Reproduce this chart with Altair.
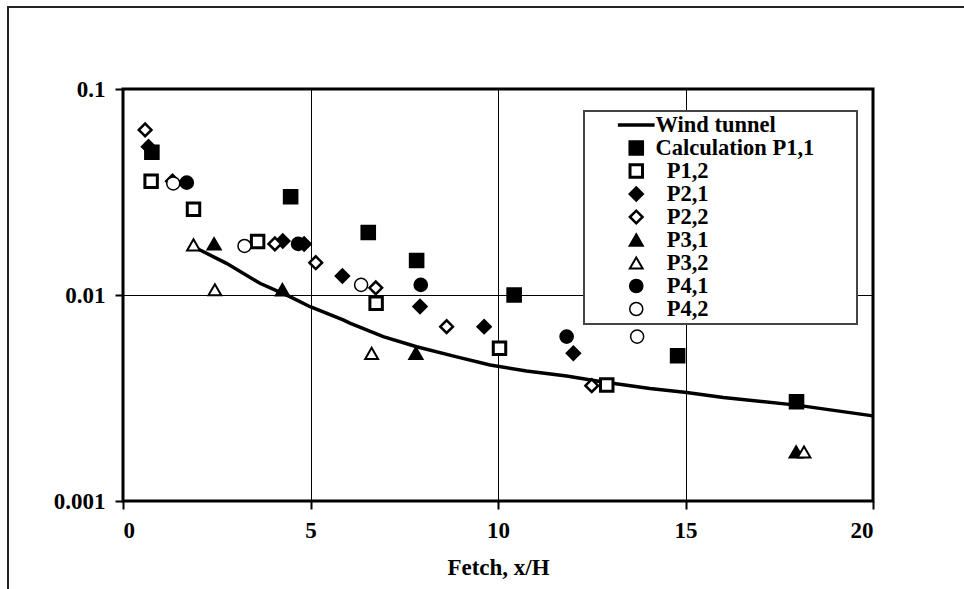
import altair as alt
import pandas as pd

# Wind tunnel reference curve
wind_x = [1.96, 2.76, 3.65, 4.45, 4.99, 5.87, 6.05, 6.94, 7.83, 8.90, 9.79,
          10.76, 11.83, 12.72, 14.05, 15.03, 16.01, 17.96, 20.0]
wind_y = [0.01687, 0.01425, 0.0114, 0.00982, 0.00877, 0.00757, 0.0073, 0.00628,
          0.00561, 0.00501, 0.00457, 0.00428, 0.00404, 0.0038, 0.00352, 0.00336,
          0.00318, 0.00292, 0.00259]

# Calculated concentrations per measuring point
calc_x = [0.77, 4.47, 6.54, 7.83, 10.43, 14.79, 17.96]
calc_y = [0.0493, 0.0300, 0.0201, 0.0147, 0.0100, 0.00507, 0.00303]
p12_x = [0.75, 1.88, 3.59, 6.75, 10.04, 12.90]
p12_y = [0.0357, 0.0261, 0.0182, 0.00912, 0.00551, 0.00366]
p21_x = [0.68, 4.26, 4.83, 5.85, 7.92, 9.63, 12.01]
p21_y = [0.0525, 0.0183, 0.0177, 0.01236, 0.0088, 0.00702, 0.00521]
p22_x = [0.59, 1.32, 4.05, 5.14, 6.74, 8.63, 12.50]
p22_y = [0.0633, 0.0357, 0.0177, 0.01435, 0.01083, 0.00702, 0.00363]
p31_x = [2.43, 4.25, 7.81, 17.95]
p31_y = [0.0177, 0.0106, 0.00521, 0.00173]
p32_x = [1.88, 2.45, 6.63, 18.16]
p32_y = [0.0175, 0.0106, 0.00521, 0.00173]
p41_x = [1.70, 4.67, 7.94, 11.83]
p41_y = [0.0351, 0.0177, 0.0112, 0.00628]
p42_x = [1.34, 3.24, 6.35, 13.71]
p42_y = [0.0348, 0.0173, 0.0112, 0.00628]

# Legend names; the zero-width space keeps the padding spaces from being trimmed
NB = "\u00a0"
ZW = "\u200b"
series_names = ["Wind tunnel", "Calculation P1,1" + NB * 7 + ZW,
                ZW + NB * 2 + "P1,2", ZW + NB * 2 + "P2,1", ZW + NB * 2 + "P2,2",
                ZW + NB * 2 + "P3,1", ZW + NB * 2 + "P3,2", ZW + NB * 2 + "P4,1",
                ZW + NB * 2 + "P4,2"]
series_shapes = ["M-3,0H3", "square", "square", "diamond", "diamond",
                 "triangle-up", "triangle-up", "circle", "circle"]
series_fills = ["black", "black", "white", "black", "white",
                "black", "white", "black", "white"]
series_sizes = [150, 170, 170, 230, 230, 190, 190, 160, 160]
series_widths = [3.5, 1.5, 1.5, 1.5, 1.5, 1.5, 1.5, 1.5, 1.5]

point_sets = [
    (series_names[1], calc_x, calc_y),
    (series_names[2], p12_x, p12_y),
    (series_names[3], p21_x, p21_y),
    (series_names[4], p22_x, p22_y),
    (series_names[5], p31_x, p31_y),
    (series_names[6], p32_x, p32_y),
    (series_names[7], p41_x, p41_y),
    (series_names[8], p42_x, p42_y),
]

wind_df = pd.DataFrame({"x": wind_x, "y": wind_y, "series": series_names[0]})
points_df = pd.concat(
    [pd.DataFrame({"x": xs, "y": ys, "series": name}) for name, xs, ys in point_sets],
    ignore_index=True,
)

FONT = "Liberation Serif"

x_enc = alt.X(
    "x:Q",
    scale=alt.Scale(domain=[0, 20], nice=False),
    axis=alt.Axis(values=[0, 5, 10, 15, 20], title="Fetch, x/H", titlePadding=14),
)
y_enc = alt.Y(
    "y:Q",
    scale=alt.Scale(type="log", domain=[0.001, 0.1], nice=False),
    axis=alt.Axis(values=[0.001, 0.01, 0.1], format="~g", title=None),
)

legend = alt.Legend(
    orient="none",
    legendX=461,
    legendY=22,
    title=None,
    fillColor="white",
    strokeColor="#444444",
    padding=3,
    symbolOffset=38,
    labelOffset=8,
    rowPadding=0,
    clipHeight=22,
    labelFont=FONT,
    labelFontSize=22.5,
    labelFontWeight="bold",
    labelColor="black",
    labelLimit=400,
)

line = alt.Chart(wind_df).mark_line(color="black", strokeWidth=3.5).encode(
    x=x_enc, y=y_enc
)

points = alt.Chart(points_df).mark_point(opacity=1, fillOpacity=1).encode(
    x=x_enc,
    y=y_enc,
    shape=alt.Shape("series:N", scale=alt.Scale(domain=series_names, range=series_shapes),
                    legend=legend),
    fill=alt.Fill("series:N", scale=alt.Scale(domain=series_names, range=series_fills),
                  legend=legend),
    stroke=alt.Stroke("series:N", scale=alt.Scale(domain=series_names, range=["black"] * 9),
                      legend=legend),
    size=alt.Size("series:N", scale=alt.Scale(domain=series_names, range=series_sizes),
                  legend=legend),
    strokeWidth=alt.StrokeWidth("series:N",
                                scale=alt.Scale(domain=series_names, range=series_widths),
                                legend=legend),
)

# Outer frame around the whole figure
frame_df = pd.DataFrame({"k": [0]})
frame_left = alt.Chart(frame_df).mark_rule(color="#222222", strokeWidth=2).encode(
    x=alt.value(-115), y=alt.value(-82), y2=alt.value(520)
)
frame_top = alt.Chart(frame_df).mark_rule(color="#222222", strokeWidth=2).encode(
    x=alt.value(-116), x2=alt.value(860), y=alt.value(-82)
)

chart = (
    alt.layer(frame_left, frame_top, line, points)
    .properties(
        width=750,
        height=412,
        autosize=alt.AutoSizeParams(type="none"),
        padding={"left": 123, "top": 89, "right": 91, "bottom": 88},
        background="white",
    )
    .configure_view(stroke="black", strokeWidth=3)
    .configure_legend(strokeWidth=2)
    .configure_axis(
        domain=False,
        grid=True,
        gridColor="black",
        gridWidth=1,
        gridOpacity=1,
        ticks=True,
        tickColor="black",
        tickWidth=2,
        tickSize=8,
        labelFont=FONT,
        labelFontSize=23,
        labelFontWeight="bold",
        labelColor="black",
        labelPadding=10,
        titleFont=FONT,
        titleFontSize=23,
        titleFontWeight="bold",
        titleColor="black",
    )
)

chart.save("out.html", embed_options={"renderer": "svg", "actions": False})
